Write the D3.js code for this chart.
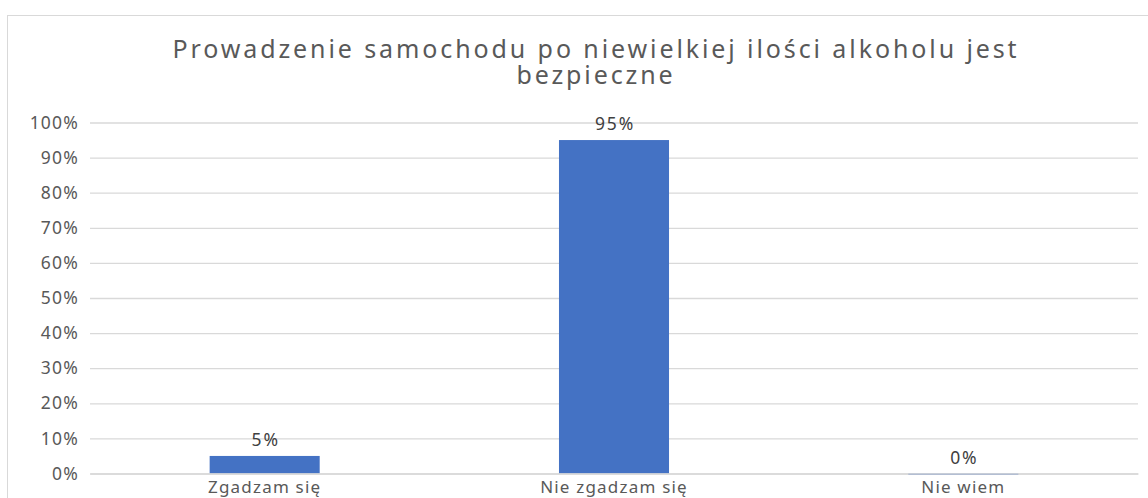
<!DOCTYPE html>
<html>
<head>
<meta charset="utf-8">
<script src="https://cdn.jsdelivr.net/npm/d3@7"></script>
<style>
  body { margin: 0; background: #fff; }
  svg { display: block; font-family: "Noto Sans", "Open Sans", sans-serif; }
</style>
</head>
<body>
<div id="chart"></div>
<script>
const titleLines = ['Prowadzenie samochodu po niewielkiej ilości alkoholu jest', 'bezpieczne'];
const categories = ['Zgadzam się', 'Nie zgadzam się', 'Nie wiem'];
const values = [0.05, 0.95, 0.0];
const yTicks = [0, 0.1, 0.2, 0.3, 0.4, 0.5, 0.6, 0.7, 0.8, 0.9, 1.0];

const width = 1148;
const height = 498;
const margin = { top: 122.5, right: 10, bottom: 24.5, left: 90 };

const svg = d3.select('#chart')
  .append('svg')
  .attr('width', width)
  .attr('height', height);

// chart border (runs off the right and bottom of the window)
svg.append('rect')
  .attr('x', 7.5)
  .attr('y', 15.5)
  .attr('width', width + 20)
  .attr('height', height)
  .attr('fill', 'none')
  .attr('stroke', '#d9d9d9');

const x = d3.scaleBand()
  .domain(categories)
  .range([margin.left, width - margin.right])
  .paddingInner(0.685)
  .paddingOuter(0.3425);

const y = d3.scaleLinear()
  .domain([0, 1])
  .range([height - margin.bottom, margin.top]);

// gridlines
svg.append('g')
  .attr('class', 'gridlines')
  .attr('transform', `translate(${margin.left}, 0)`)
  .call(d3.axisLeft(y).tickValues(yTicks).tickFormat('').tickSize(-(width - margin.left - margin.right)))
  .call((g) => g.select('.domain').remove())
  .call((g) => g.selectAll('line').attr('stroke', '#d9d9d9').attr('stroke-width', 1.3));

// y axis labels
svg.append('g')
  .attr('transform', `translate(${margin.left - 8}, 0)`)
  .call(d3.axisLeft(y).tickValues(yTicks).tickFormat(d3.format('.0%')).tickSize(0))
  .call((g) => g.select('.domain').remove())
  .call((g) => g.selectAll('text')
    .attr('fill', '#595959')
    .style('font-family', '"Noto Sans", sans-serif')
    .style('font-size', '17.5px')
    .style('letter-spacing', '1.2px'));

// bars
svg.append('g')
  .selectAll('rect')
  .data(categories)
  .join('rect')
  .attr('x', (d) => x(d))
  .attr('width', x.bandwidth())
  .attr('y', (d, i) => y(values[i]))
  .attr('height', (d, i) => Math.max(1.5, y(0) - y(values[i])))
  .attr('fill', '#4472c4');

// value labels
svg.append('g')
  .selectAll('text')
  .data(categories)
  .join('text')
  .attr('x', (d) => x(d) + x.bandwidth() / 2 + 1)
  .attr('y', (d, i) => y(values[i]) - 10)
  .attr('text-anchor', 'middle')
  .attr('fill', '#404040')
  .style('font-size', '17.5px')
  .style('letter-spacing', '1.8px')
  .text((d, i) => d3.format('.0%')(values[i]));

// category labels
svg.append('g')
  .attr('transform', `translate(0, ${y(0)})`)
  .call(d3.axisBottom(x).tickSize(0).tickPadding(7))
  .call((g) => g.select('.domain').attr('stroke', '#d9d9d9').attr('stroke-width', 1.3))
  .call((g) => g.selectAll('text')
    .attr('fill', '#595959')
    .style('font-family', '"Noto Sans", sans-serif')
    .style('font-size', '17px')
    .style('letter-spacing', '1.2px'));

// title
svg.append('text')
  .attr('text-anchor', 'middle')
  .attr('fill', '#595959')
  .style('font-size', '25px')
  .style('letter-spacing', '2.9px')
  .selectAll('tspan')
  .data(titleLines)
  .join('tspan')
  .attr('x', 596)
  .attr('y', (d, i) => 58 + i * 26)
  .text((d) => d);
</script>
</body>
</html>
